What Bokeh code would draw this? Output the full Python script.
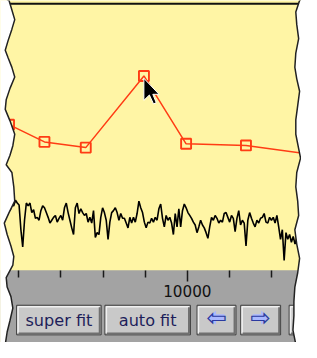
import numpy as np
from bokeh.plotting import figure
from bokeh.models import Range1d, LinearAxis, FixedTicker, BoxAnnotation
from bokeh.core.properties import value
from bokeh.embed import file_html
from bokeh.resources import INLINE

# ---------------- data ----------------
fit_x = [5770, 6610, 7590, 8970, 9970, 11390, 12820]
fit_y = [17.0, 15.2, 14.6, 22.1, 15.0, 14.83, 13.95]

signal_x_start = 5793
signal_x_end = 12640
signal_y = [
    8.0, 8.6, 8.5, 9.1, 8.8, 8.6, 6.0, 4.2, 7.0, 8.8, 8.5, 8.8, 7.8, 8.1, 7.2, 7.3, 7.0, 8.0,
    8.5, 8.3, 7.8, 7.3, 6.7, 7.0, 7.3, 7.5, 6.8, 7.2, 7.5, 7.0, 8.3, 8.8, 7.8, 7.0, 6.2,
    5.5, 8.3, 8.8, 7.7, 8.2, 7.8, 7.5, 7.7, 6.8, 7.3, 6.7, 8.0, 5.2, 5.7, 5.5, 7.3, 8.3, 7.8,
    7.0, 5.0, 6.8, 7.8, 8.0, 8.3, 7.8, 7.0, 7.7, 7.2, 7.2, 6.7, 6.2, 7.3, 6.7, 7.3, 6.8, 7.7,
    9.0, 8.3, 7.8, 6.8, 6.2, 6.8,
    6.7, 7.2, 6.8, 7.3, 7.0, 8.2, 8.7, 7.2, 6.3, 7.5, 7.0, 7.3, 6.7, 5.5, 7.7, 6.3, 8.2, 6.3,
    8.0, 8.7, 8.3, 7.8, 7.5, 7.2, 6.8, 6.5, 5.7, 6.3, 7.0, 6.5, 6.2, 5.7, 5.1, 6.3, 7.3, 7.0,
    7.5, 7.2, 6.7, 7.0, 6.8,
    7.7, 7.8, 7.3, 6.8, 7.5, 7.2, 5.8, 7.2, 8.0, 6.5, 7.0, 6.7, 4.3, 7.0, 7.8, 7.2, 6.7, 6.3,
    7.0, 6.7, 7.2, 7.3, 7.7, 6.8, 6.7, 7.3, 7.0, 7.3, 6.7, 7.5, 6.3, 5.0, 6.0, 2.8, 5.7, 5.0,
    5.5, 4.7, 5.3, 4.5, 5.2, 5.7,
]
signal_x = np.linspace(signal_x_start, signal_x_end, len(signal_y))

major_ticks = [10000]
minor_ticks = [6000, 7000, 8000, 9000, 11000, 12000]

button_labels = ["super fit", "auto fit"]
arrow_labels = ["\u21e6", "\u21e8"]

# ---------------- layout helpers (screen-pixel decoration) ----------------
W, H = 301, 342
K = W / 317.0                     # screen scale factor
XS = 1000.0 / 44.4                # data units per reference pixel
X0 = 10000 - 196.8 * XS


def px(rx):
    return X0 + rx * XS


def py(ry):
    return (300.0 - ry) / 10.0


def s(v):
    return v * K


YELLOW = "#fff5a5"
GRAY = "#a3a3a3"
ORANGE = "#ff3c14"
FONT = value("DejaVu Sans")

p = figure(width=W, height=H,
           x_range=Range1d(px(0), px(317)), y_range=Range1d(py(358), py(0)),
           x_axis_type=None, y_axis_type=None,
           output_backend="svg", toolbar_location=None, min_border=0,
           background_fill_color=YELLOW, border_fill_color="white",
           outline_line_color=None)

# gray strip
p.add_layout(BoxAnnotation(top=py(282.5), fill_color=GRAY, fill_alpha=1.0,
                           line_color=None, level="underlay"))

# axis on the strip edge
xaxis = LinearAxis(ticker=FixedTicker(ticks=major_ticks, minor_ticks=minor_ticks),
                   fixed_location=py(282.5), axis_line_color=None,
                   major_tick_in=0, major_tick_out=round(s(12)), minor_tick_in=0,
                   minor_tick_out=round(s(7)),
                   major_tick_line_color="#1a1a1a", minor_tick_line_color="#1a1a1a",
                   major_tick_line_width=1.5, minor_tick_line_width=1.5,
                   major_label_text_font="DejaVu Sans",
                   major_label_text_font_size=f"{s(16):.1f}px",
                   major_label_text_color="#111111", major_label_standoff=4)
p.add_layout(xaxis, "below")

# top border line
p.line([px(8), px(317)], [py(3.5), py(3.5)], line_color="#111111", line_width=2)

# signal trace
p.line(signal_x, signal_y, line_color="black", line_width=1.6)

# fit line
p.line(fit_x, fit_y, line_color=ORANGE, line_width=1.5)
p.scatter(fit_x, fit_y, marker="square", size=s(10.5), fill_color=None,
          line_color=ORANGE, line_width=1.9)

# buttons
btn_edges = [(17, 106), (110, 200), (207, 248), (253, 295), (304, 346)]
bt, bb = 319, 350
for (l, r) in btn_edges:
    p.quad(left=px(l), right=px(r), top=py(bt), bottom=py(bb),
           fill_color="#c9c9c9", line_color="#3a3a3a", line_width=1)
    p.line([px(l + 1.5), px(l + 1.5), px(r - 1.5)],
           [py(bb - 2), py(bt + 1.5), py(bt + 1.5)], line_color="#f0f0f0", line_width=1.5)
    p.line([px(l + 2), px(r - 1.5), px(r - 1.5)],
           [py(bb - 1.5), py(bb - 1.5), py(bt + 2)], line_color="#707070", line_width=2)

p.text(x=[px((l + r) / 2) for (l, r) in btn_edges[:2]], y=[py(334.5)] * 2,
       text=button_labels, text_align="center", text_baseline="middle",
       text_font=FONT, text_font_size=f"{s(17):.1f}px", text_color="#1e1e5a")

# arrow buttons: light fill behind the outlined arrow characters
arrow = [(8.5, 0), (0.5, -7.5), (0.5, -3.5), (-8.5, -3.5), (-8.5, 3.5), (0.5, 3.5), (0.5, 7.5)]
for (l, r), d in zip(btn_edges[2:4], (-1, 1)):
    cx, cy = (l + r) / 2, 332
    p.patch([px(cx + d * a) for a, b in arrow], [py(cy + b) for a, b in arrow],
            fill_color="#aab8ff", line_color=None)
p.text(x=[px((l + r) / 2) for (l, r) in btn_edges[2:4]], y=[py(332)] * 2,
       text=arrow_labels, text_align="center", text_baseline="middle",
       text_font=FONT, text_font_size=f"{s(26):.1f}px", text_color="#2b3aa0")

# mouse cursor (decoration)
tipx, tipy = 151, 81.5
cur = [(0, 0), (0, 23), (5.8, 17.4), (10.2, 26.8), (13, 25.4), (9.4, 16.7), (16, 16.7)]
p.patch([px(tipx + a) for a, b in cur], [py(tipy + b) for a, b in cur],
        fill_color="black", line_color="white", line_width=1)

# torn edges (decoration)
left_wave = [(9, 0), (12, 10), (15, 20), (12, 30), (8, 42), (5, 52), (8, 60), (12, 70), (15, 80),
             (10, 92), (6, 104), (5, 114), (10, 126), (15, 140), (13, 152), (10, 162), (6, 172),
             (12, 180), (14, 195), (15, 210), (9, 222), (4, 233), (7, 245), (11, 257), (14, 268),
             (13, 277), (6, 290), (7, 300), (11, 310), (13, 322), (10, 335), (7, 347), (5, 360)]
right_wave = [(315, 0), (311, 12), (312, 25), (314, 40), (311, 55), (310, 70), (312, 82),
              (315, 95), (313, 110), (311, 125), (311, 140), (314, 155), (316, 165), (312, 180),
              (311, 195), (313, 210), (314, 225), (310, 240), (312, 255), (315, 270), (313, 285),
              (310, 300), (309, 315), (309, 330), (308, 345), (311, 360)]
lx = [px(-10)] + [px(a) for a, b in left_wave] + [px(-10)]
ly = [py(-10)] + [py(b) for a, b in left_wave] + [py(370)]
rx = [px(330)] + [px(a) for a, b in right_wave] + [px(330)]
ry = [py(-10)] + [py(b) for a, b in right_wave] + [py(370)]
p.patch(lx, ly, fill_color="white", line_color="#222222", line_width=1.5)
p.patch(rx, ry, fill_color="white", line_color="#222222", line_width=1.5)

open("out.html", "w").write(file_html(p, INLINE))
